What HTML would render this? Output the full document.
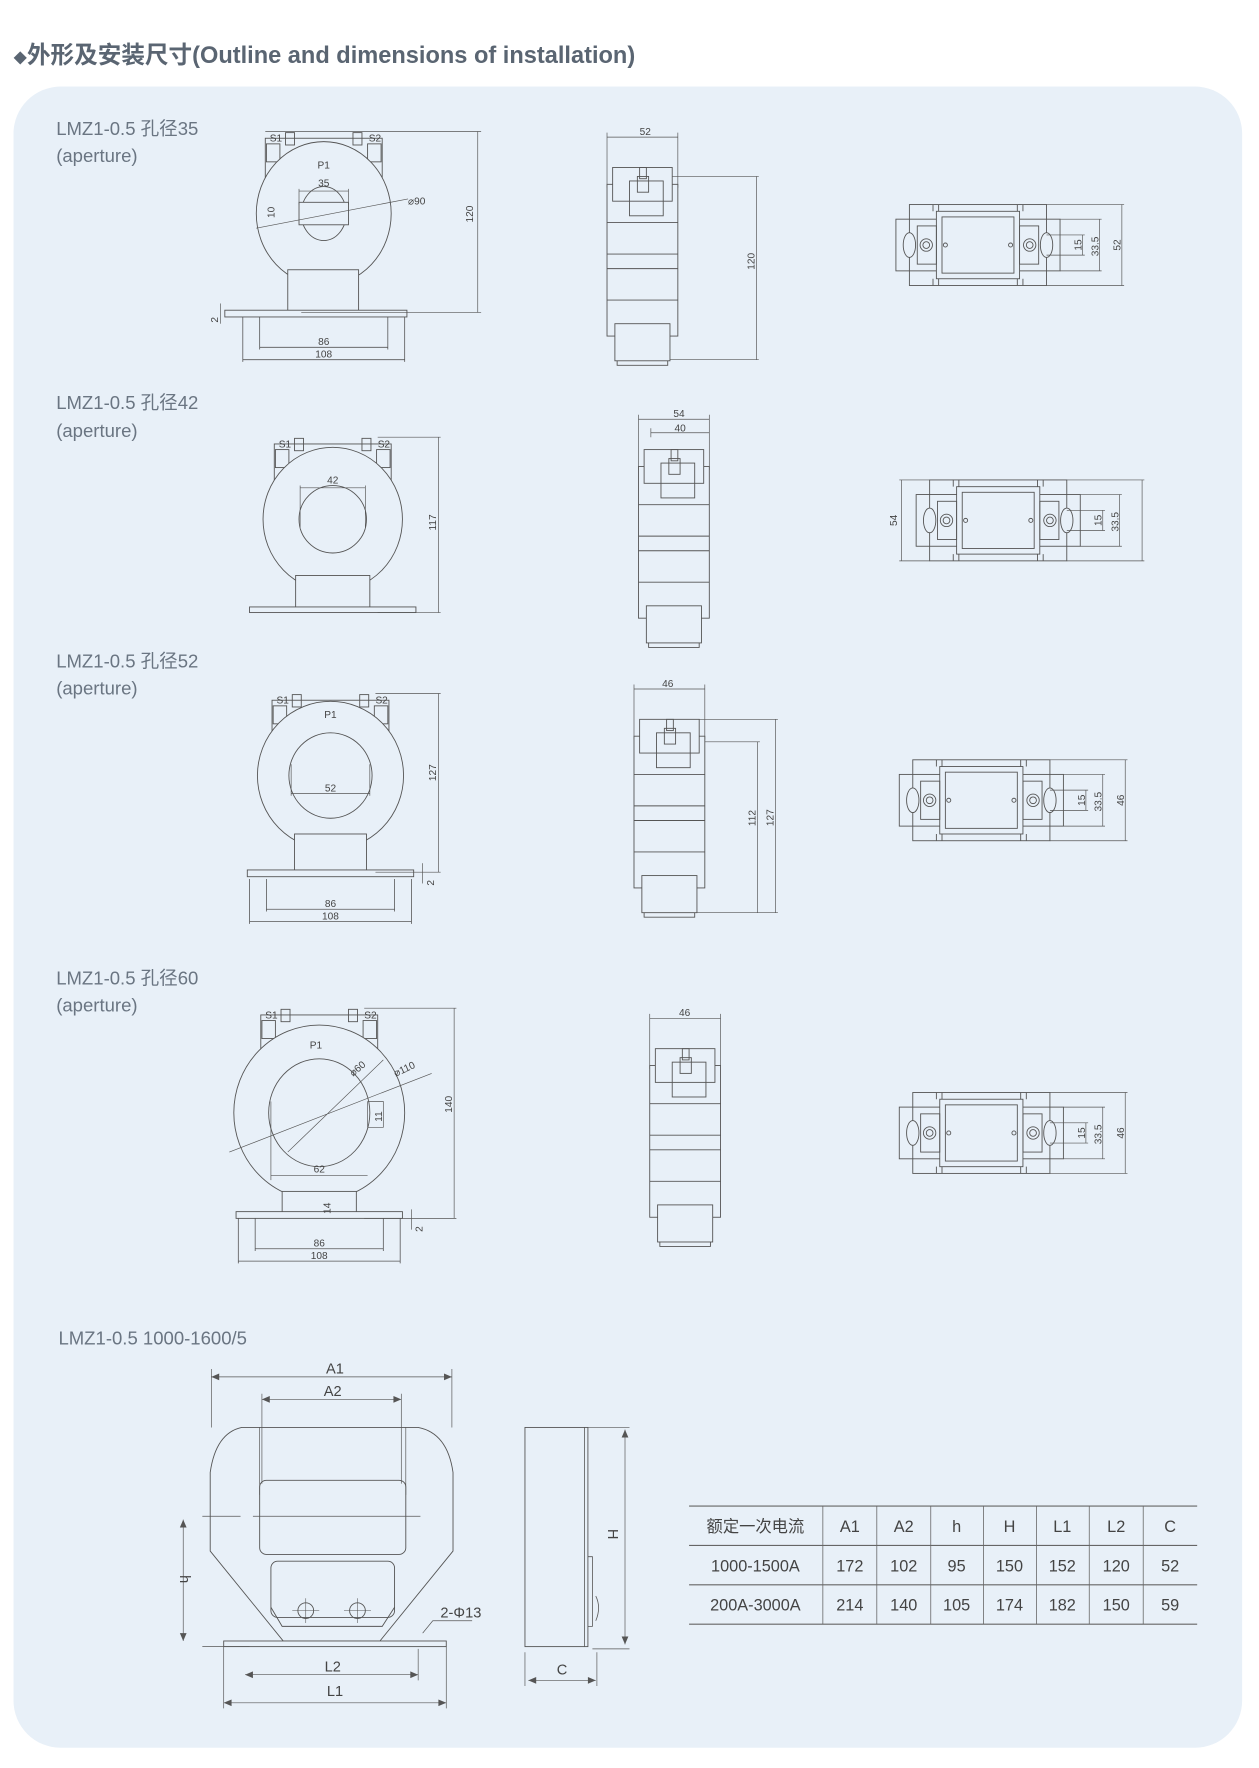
<!DOCTYPE html>
<html><head><meta charset="utf-8"><style>
html,body{margin:0;padding:0;background:#fff;}
svg{display:block;}
text{font-family:"Liberation Sans","Noto Sans CJK SC",sans-serif;}
.t{font-size:9px;fill:#444;}
.lb{font-size:16.5px;fill:#6a7582;}
</style></head><body>
<svg width="1259" height="1768" viewBox="0 0 1120 1573" preserveAspectRatio="none" xmlns="http://www.w3.org/2000/svg">
<defs>
<g id="front">
 <rect x="-52" y="-67" width="104" height="70" fill="#e8f0f8" stroke="#555" stroke-width="0.8"/>
 <rect x="-34" y="-72" width="8" height="11" fill="none" stroke="#555" stroke-width="0.8"/>
 <rect x="26" y="-72" width="8" height="11" fill="none" stroke="#555" stroke-width="0.8"/>
 <rect x="-51" y="-62" width="12" height="16" fill="none" stroke="#555" stroke-width="0.8"/>
 <rect x="39" y="-62" width="12" height="16" fill="none" stroke="#555" stroke-width="0.8"/>
 <text x="-48" y="-64" class="t">S1</text><text x="40" y="-64" class="t">S2</text>
</g>
<g id="base">
 <path d="M-72 92V132M72 92V132M-57 92V121M57 92V121" stroke="#555" stroke-width="0.7" fill="none"/>
 <path d="M-57 119H57M-72 130H72" stroke="#555" stroke-width="0.7"/>
 <text x="0" y="117" class="t" text-anchor="middle">86</text>
 <text x="0" y="128" class="t" text-anchor="middle">108</text>
</g>
<g id="side" fill="none" stroke="#555" stroke-width="0.8">
 <path d="M0 -4V45M63 -4V45M0 0H63" stroke-width="0.6"/>
 <rect x="0" y="42" width="63" height="135" fill="#e8f0f8"/>
 <rect x="5" y="27" width="53" height="30" fill="#e8f0f8"/>
 <rect x="20" y="39" width="30" height="31"/>
 <rect x="27" y="35" width="10" height="14"/>
 <rect x="29" y="27" width="6" height="10"/>
 <path d="M0 76H63M0 104H63M0 117H63M0 145H63"/>
 <rect x="7" y="166" width="49" height="33" fill="#e8f0f8"/>
 <path d="M9 199V203H54V199"/>
</g>
<g id="top" fill="none" stroke="#555" stroke-width="0.8">
 <rect x="-73" y="-23" width="146" height="46" fill="#e8f0f8"/>
 <rect x="-61" y="-36" width="122" height="72"/>
 <path d="M-40 -36V-30M-35 -36V-30M35 -36V-30M40 -36V-30M-40 36V30M-35 36V30M35 36V30M40 36V30"/>
 <rect x="-37" y="-30" width="74" height="60" fill="#e8f0f8"/>
 <rect x="-32" y="-25" width="64" height="50"/>
 <rect x="-54" y="-17" width="17" height="34"/>
 <rect x="37" y="-17" width="17" height="34"/>
 <ellipse cx="-61" cy="0" rx="5.5" ry="11" fill="#e8f0f8"/>
 <ellipse cx="61" cy="0" rx="5.5" ry="11" fill="#e8f0f8"/>
 <circle cx="-46" cy="0" r="5.5"/><circle cx="-46" cy="0" r="3"/>
 <circle cx="46" cy="0" r="5.5"/><circle cx="46" cy="0" r="3"/>
 <circle cx="-29" cy="0" r="1.8"/><circle cx="29" cy="0" r="1.8"/>
 <path d="M61 -9H95M73 -23H110M61 -36H130M61 9H95M73 23H110M61 36H130M93 -9V9M108 -23V23M128 -36V36" stroke-width="0.6"/>
</g>
</defs>

<text x="12" y="56" style="font-size:21px;font-weight:bold;fill:#5a6572"><tspan style="font-size:12px">◆</tspan>外形及安装尺寸(Outline and dimensions of installation)</text>
<rect x="12" y="77" width="1093" height="1478" rx="42" fill="#e8f0f8"/>

<!-- Section 1 -->
<text x="50" y="120" class="lb">LMZ1-0.5 孔径35</text><text x="50" y="144" class="lb">(aperture)</text>
<g transform="translate(288,190)">
 <use href="#front"/>
 <ellipse cx="0" cy="0" rx="60" ry="64" fill="#e8f0f8" stroke="#555" stroke-width="0.8"/>
 <rect x="-32" y="50" width="63" height="38" fill="#e8f0f8" stroke="#555" stroke-width="0.8"/>
 <rect x="-88" y="86" width="162" height="6" fill="#e8f0f8" stroke="#555" stroke-width="0.8"/>
 <ellipse cx="0" cy="0" rx="20" ry="24" fill="none" stroke="#555" stroke-width="0.8"/>
 <rect x="-22" y="-10" width="44" height="20" fill="#e8f0f8" stroke="#555" stroke-width="0.8"/>
 <path d="M-22 -20H22M-22 -22V-8M22 -22V-8M-60 13L75 -13" stroke="#555" stroke-width="0.6"/>
 <text x="0" y="-24" class="t" text-anchor="middle">35</text>
 <text x="0" y="-40" class="t" text-anchor="middle">P1</text>
 <text x="75" y="-8" class="t">⌀90</text>
 <text transform="translate(-44,4) rotate(-90)" class="t">10</text>
 <path d="M-52 -73H140M-20 88H140M137 -73V88" stroke="#555" stroke-width="0.6"/>
 <text transform="translate(133,8) rotate(-90)" class="t">120</text>
 <path d="M-92 80V98" stroke="#555" stroke-width="0.6"/><text transform="translate(-94,97) rotate(-90)" class="t">2</text>
 <use href="#base"/>
</g>
<g transform="translate(540,122)"><use href="#side"/>
 <text x="34" y="-2" class="t" text-anchor="middle">52</text>
 <path d="M58 35H135M56 198H135M133 35V198" stroke="#555" stroke-width="0.6" fill="none"/>
 <text transform="translate(131,118) rotate(-90)" class="t">120</text></g>
<g transform="translate(870,218)"><use href="#top"/>
 <text transform="translate(92,5) rotate(-90)" class="t">15</text>
 <text transform="translate(107,10) rotate(-90)" class="t">33.5</text>
 <text transform="translate(127,5) rotate(-90)" class="t">52</text></g>

<!-- Section 2 -->
<text x="50" y="364" class="lb">LMZ1-0.5 孔径42</text><text x="50" y="389" class="lb">(aperture)</text>
<g transform="translate(296,462)">
 <use href="#front"/>
 <ellipse cx="0" cy="0" rx="62" ry="64" fill="#e8f0f8" stroke="#555" stroke-width="0.8"/>
 <rect x="-33" y="50" width="66" height="30" fill="#e8f0f8" stroke="#555" stroke-width="0.8"/>
 <rect x="-74" y="78" width="148" height="5" fill="#e8f0f8" stroke="#555" stroke-width="0.8"/>
 <ellipse cx="0" cy="0" rx="30" ry="30" fill="none" stroke="#555" stroke-width="0.8"/>
 <rect x="-29" y="-8" width="58" height="16" fill="#e8f0f8" stroke="none"/>
 <path d="M-29 -8V8M29 -8V8M-29 -30V-6M29 -30V-6M-29 -28H29" stroke="#555" stroke-width="0.6" fill="none"/>
 <text x="0" y="-32" class="t" text-anchor="middle">42</text>
 <path d="M40 -73H96M40 83H96M94 -73V83" stroke="#555" stroke-width="0.6" fill="none"/>
 <text transform="translate(92,10) rotate(-90)" class="t">117</text>
</g>
<g transform="translate(568,373)"><use href="#side"/>
 <path d="M11 12H63M11 8V16" stroke="#555" stroke-width="0.6" fill="none"/>
 <text x="36" y="-2" class="t" text-anchor="middle">54</text><text x="37" y="11" class="t" text-anchor="middle">40</text></g>
<g transform="translate(888,463)"><use href="#top"/>
 <path d="M-61 -36H-88M-61 36H-88M-86 -36V36" stroke="#555" stroke-width="0.6"/>
 <text transform="translate(-90,5) rotate(-90)" class="t">54</text>
 <text transform="translate(92,5) rotate(-90)" class="t">15</text>
 <text transform="translate(107,10) rotate(-90)" class="t">33.5</text></g>

<!-- Section 3 -->
<text x="50" y="594" class="lb">LMZ1-0.5 孔径52</text><text x="50" y="618" class="lb">(aperture)</text>
<g transform="translate(294,690)">
 <use href="#front"/>
 <ellipse cx="0" cy="0" rx="65" ry="66" fill="#e8f0f8" stroke="#555" stroke-width="0.8"/>
 <rect x="-32" y="52" width="64" height="34" fill="#e8f0f8" stroke="#555" stroke-width="0.8"/>
 <rect x="-74" y="84" width="148" height="6" fill="#e8f0f8" stroke="#555" stroke-width="0.8"/>
 <ellipse cx="0" cy="0" rx="37" ry="38" fill="none" stroke="#555" stroke-width="0.8"/>
 <rect x="-35" y="-10" width="70" height="20" fill="#e8f0f8" stroke="none"/>
 <path d="M-35 -10V18M35 -10V18M-35 16H35" stroke="#555" stroke-width="0.6" fill="none"/>
 <text x="0" y="14" class="t" text-anchor="middle">52</text>
 <text x="0" y="-51" class="t" text-anchor="middle">P1</text>
 <path d="M40 -73H98M40 86H98M96 -73V86" stroke="#555" stroke-width="0.6" fill="none"/>
 <text transform="translate(94,5) rotate(-90)" class="t">127</text>
 <path d="M82 78V96" stroke="#555" stroke-width="0.6"/><text transform="translate(92,98) rotate(-90)" class="t">2</text>
 <use href="#base"/>
</g>
<g transform="translate(564,613)"><use href="#side"/>
 <text x="30" y="-2" class="t" text-anchor="middle">46</text>
 <path d="M58 27H128M56 199H128M63 47H112M110 47V199M126 27V199" stroke="#555" stroke-width="0.6" fill="none"/>
 <text transform="translate(108,122) rotate(-90)" class="t">112</text>
 <text transform="translate(124,122) rotate(-90)" class="t">127</text></g>
<g transform="translate(873,712)"><use href="#top"/>
 <text transform="translate(92,5) rotate(-90)" class="t">15</text>
 <text transform="translate(107,10) rotate(-90)" class="t">33.5</text>
 <text transform="translate(127,5) rotate(-90)" class="t">46</text></g>

<!-- Section 4 -->
<text x="50" y="876" class="lb">LMZ1-0.5 孔径60</text><text x="50" y="900" class="lb">(aperture)</text>
<g transform="translate(284,990)">
 <use href="#front" transform="translate(0,-20)"/>
 <ellipse cx="0" cy="0" rx="76" ry="78" fill="#e8f0f8" stroke="#555" stroke-width="0.8"/>
 <rect x="-33" y="70" width="66" height="20" fill="#e8f0f8" stroke="#555" stroke-width="0.8"/>
 <rect x="-74" y="88" width="148" height="6" fill="#e8f0f8" stroke="#555" stroke-width="0.8"/>
 <ellipse cx="0" cy="0" rx="45" ry="48" fill="none" stroke="#555" stroke-width="0.8"/>
 <rect x="-43" y="-10" width="86" height="22" fill="#e8f0f8" stroke="none"/>
 <path d="M-43 -10V60M43 -10V13M43 -10H57V13H43M-43 56H43M-80 35L100 -35M-28 35L57 -47" stroke="#555" stroke-width="0.6" fill="none"/>
 <text x="0" y="53" class="t" text-anchor="middle">62</text>
 <text x="-3" y="-57" class="t" text-anchor="middle">P1</text>
 <text transform="translate(30,-32) rotate(-40)" class="t">⌀60</text>
 <text transform="translate(68,-32) rotate(-25)" class="t">⌀110</text>
 <text transform="translate(56,8) rotate(-90)" class="t">11</text>
 <path d="M40 -93H122M40 94H122M120 -93V94" stroke="#555" stroke-width="0.6" fill="none"/>
 <text transform="translate(118,0) rotate(-90)" class="t">140</text>
 <text transform="translate(10,90) rotate(-90)" class="t">14</text>
 <path d="M82 86V104" stroke="#555" stroke-width="0.6"/><text transform="translate(92,106) rotate(-90)" class="t">2</text>
 <g transform="translate(0,2)"><use href="#base"/></g>
</g>
<g transform="translate(578,906)"><use href="#side"/>
 <text x="31" y="-2" class="t" text-anchor="middle">46</text></g>
<g transform="translate(873,1008)"><use href="#top"/>
 <text transform="translate(92,5) rotate(-90)" class="t">15</text>
 <text transform="translate(107,10) rotate(-90)" class="t">33.5</text>
 <text transform="translate(127,5) rotate(-90)" class="t">46</text></g>

<!-- Bottom section -->
<text x="52" y="1196" class="lb">LMZ1-0.5 1000-1600/5</text>
<g fill="none" stroke="#555" stroke-width="0.8">
 <path d="M188 1218V1270M402 1218V1270M188 1225H402M233 1240V1320M357 1240V1320M233 1245H357" stroke-width="0.6"/>
 <path d="M215 1270H372Q398 1275 403 1310V1380L338 1460H252L187 1380V1310Q192 1275 215 1270Z"/>
 <path d="M231 1270V1330M361 1270V1330" stroke-width="0.6"/>
 <rect x="231" y="1317" width="130" height="66" rx="6"/>
 <rect x="241" y="1389" width="110" height="50" rx="6"/>
 <path d="M241 1430L251 1447H340L351 1430"/>
 <circle cx="272" cy="1433" r="7"/><circle cx="318" cy="1433" r="7"/>
 <path d="M260 1433H284M306 1433H330M272 1422V1444M318 1422V1444" stroke-width="0.5"/>
 <rect x="199" y="1460" width="198" height="5" fill="#e8f0f8"/>
 <path d="M180 1349H214M225 1349H374M180 1465H222M163 1352V1460" stroke-width="0.6"/>
 <path d="M199 1465V1520M397 1465V1520M372 1467V1495M218 1490H372M199 1515H397" stroke-width="0.6"/>
 <path d="M376 1453L385 1442H420" stroke-width="0.6"/>
 <rect x="467" y="1270" width="56" height="195"/>
 <path d="M520 1270V1465M523 1385H527V1447H523M530 1420Q535 1430 530 1442" stroke-width="0.7"/>
 <path d="M523 1270H560M527 1467H560M556 1272V1463M467 1470V1500M531 1470V1500M470 1495H530" stroke-width="0.6"/>
</g>
<g fill="#555">
 <path d="M188 1225l7-3v6zM402 1225l-7-3v6zM233 1245l7-3v6zM357 1245l-7-3v6zM163 1352l-3 7h6zM163 1460l-3-7h6zM218 1490l7-3v6zM372 1490l-7-3v6zM199 1515l7-3v6zM397 1515l-7-3v6zM556 1272l-3 7h6zM556 1463l-3-7h6zM470 1495l7-3v6zM530 1495l-7-3v6z"/>
</g>
<g style="font-size:13px;fill:#444" text-anchor="middle">
 <text x="298" y="1222">A1</text><text x="296" y="1242">A2</text>
 <text x="296" y="1487">L2</text><text x="298" y="1509">L1</text>
 <text x="500" y="1490">C</text>
 <text x="410" y="1439">2-Φ13</text>
 <text transform="translate(160,1405) rotate(90)">h</text>
 <text transform="translate(541,1365) rotate(90)">H</text>
</g>
<g stroke="#666" stroke-width="1">
 <path d="M613 1340H1065M613 1375H1065M613 1410H1065M613 1445H1065"/>
 <path d="M732 1340V1445M780 1340V1445M828 1340V1445M875 1340V1445M922 1340V1445M969 1340V1445M1017 1340V1445" stroke-width="0.7"/>
</g>
<g style="font-size:14.5px;fill:#444" text-anchor="middle">
 <text x="672" y="1363">额定一次电流</text><text x="756" y="1363">A1</text><text x="804" y="1363">A2</text><text x="851" y="1363">h</text><text x="898" y="1363">H</text><text x="945" y="1363">L1</text><text x="993" y="1363">L2</text><text x="1041" y="1363">C</text>
 <text x="672" y="1398">1000-1500A</text><text x="756" y="1398">172</text><text x="804" y="1398">102</text><text x="851" y="1398">95</text><text x="898" y="1398">150</text><text x="945" y="1398">152</text><text x="993" y="1398">120</text><text x="1041" y="1398">52</text>
 <text x="672" y="1433">200A-3000A</text><text x="756" y="1433">214</text><text x="804" y="1433">140</text><text x="851" y="1433">105</text><text x="898" y="1433">174</text><text x="945" y="1433">182</text><text x="993" y="1433">150</text><text x="1041" y="1433">59</text>
</g>
</svg>
</body></html>
